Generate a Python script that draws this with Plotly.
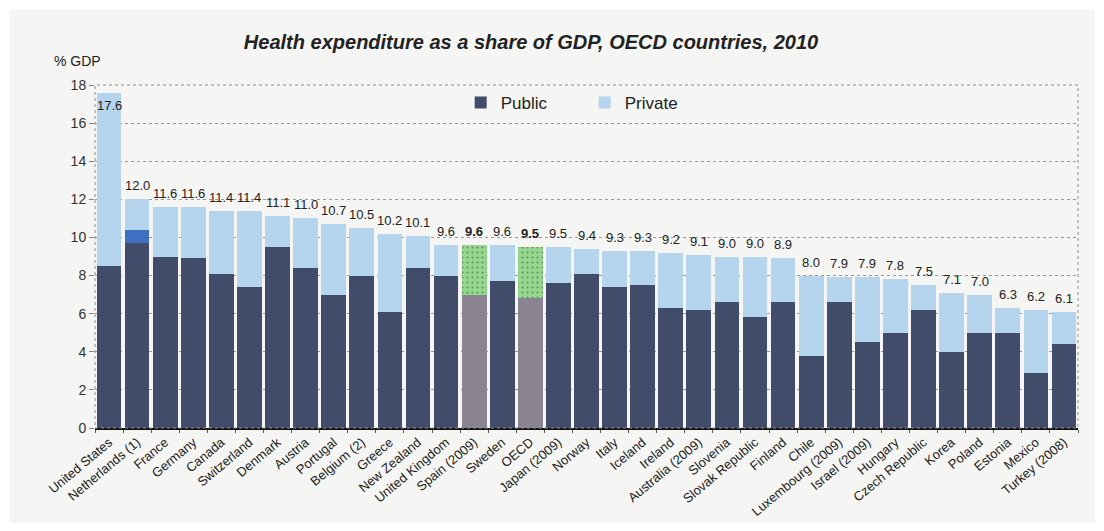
import plotly.graph_objects as go

# Health expenditure as a share of GDP, OECD countries, 2010
countries = [
    "United States", "Netherlands (1)", "France", "Germany", "Canada", "Switzerland",
    "Denmark", "Austria", "Portugal", "Belgium (2)", "Greece", "New Zealand",
    "United Kingdom", "Spain (2009)", "Sweden", "OECD", "Japan (2009)", "Norway",
    "Italy", "Iceland", "Ireland", "Australia (2009)", "Slovenia", "Slovak Republic",
    "Finland", "Chile", "Luxembourg (2009)", "Israel (2009)", "Hungary",
    "Czech Republic", "Korea", "Poland", "Estonia", "Mexico", "Turkey (2008)",
]
total = [17.6, 12.0, 11.6, 11.6, 11.4, 11.4, 11.1, 11.0, 10.7, 10.5, 10.2, 10.1,
         9.6, 9.6, 9.6, 9.5, 9.5, 9.4, 9.3, 9.3, 9.2, 9.1, 9.0, 9.0, 8.9, 8.0,
         7.9, 7.9, 7.8, 7.5, 7.1, 7.0, 6.3, 6.2, 6.1]
public = [8.5, 9.7, 9.0, 8.9, 8.1, 7.4, 9.5, 8.4, 7.0, 8.0, 6.1, 8.4,
          8.0, 7.0, 7.7, 6.8, 7.6, 8.1, 7.4, 7.5, 6.3, 6.2, 6.6, 5.8, 6.6, 3.8,
          6.6, 4.5, 5.0, 6.2, 4.0, 5.0, 5.0, 2.9, 4.4]
# Netherlands: expenditure not allocated between public and private
unallocated = {"Netherlands (1)": 0.7}
highlighted = ["Spain (2009)", "OECD"]

y_ticks = [0, 2, 4, 6, 8, 10, 12, 14, 16, 18]

FONT = "Liberation Sans, Arial, sans-serif"
PUBLIC_C = "#414b6a"
PRIVATE_C = "#b5d4ee"
HL_PUBLIC_C = "#8a8391"
HL_PRIVATE_C = "#93d88c"
UNALLOC_C = "#3e70c2"

other = [unallocated.get(c, 0.0) for c in countries]
private = [round(t - p - o, 2) for t, p, o in zip(total, public, other)]
is_hl = [c in highlighted for c in countries]

fig = go.Figure()
fig.add_trace(go.Bar(
    x=countries, y=public, name="Public",
    marker=dict(color=[HL_PUBLIC_C if h else PUBLIC_C for h in is_hl], line_width=0),
))
fig.add_trace(go.Bar(
    x=countries, y=other, name="Not allocated", showlegend=False,
    marker=dict(color=UNALLOC_C, line_width=0),
))
fig.add_trace(go.Bar(
    x=countries, y=private, name="Private",
    marker=dict(
        color=[HL_PRIVATE_C if h else PRIVATE_C for h in is_hl], line_width=0,
        pattern=dict(shape=["." if h else "" for h in is_hl],
                     fgcolor="#2f6b2f", size=5, solidity=0.15),
    ),
))

# total value labels above each bar (inside the top of the tallest one)
annotations = []
for c, t, h in zip(countries, total, is_hl):
    inside = t > 17
    annotations.append(dict(
        x=c, y=t, xref="x", yref="y",
        text=f"<b>{t:.1f}</b>" if h else f"{t:.1f}",
        showarrow=False, yanchor="top" if inside else "bottom",
        yshift=-3 if inside else 4,
        font=dict(family=FONT, size=13, color="#222222"),
    ))
annotations.append(dict(
    text="% GDP", xref="paper", yref="paper",
    x=(77 - 95) / 983, y=(428 - 61) / 343, xanchor="center", yanchor="middle",
    showarrow=False, font=dict(family=FONT, size=14, color="#222222"),
))

# light panel behind the chart and dotted frame of the plot area
fig.add_shape(type="rect", xref="paper", yref="paper",
              x0=-85 / 983, x1=(1095 - 95) / 983, y0=-95 / 343, y1=418 / 343,
              fillcolor="#f5f5f3", line_width=0, layer="below")
fig.add_shape(type="rect", xref="paper", yref="paper", x0=0, x1=1, y0=0, y1=1,
              line=dict(color="#8c8c8c", width=1, dash="dot"), layer="above")

fig.update_layout(
    width=1104, height=531,
    margin=dict(l=95, r=26, t=85, b=103),
    paper_bgcolor="white", plot_bgcolor="rgba(0,0,0,0)",
    barmode="stack", bargap=0.12,
    font=dict(family=FONT, color="#222222"),
    title=dict(
        text="<b><i>Health expenditure as a share of GDP, OECD countries, 2010</i></b>",
        x=531 / 1104, xanchor="center", y=1 - 42 / 531, yanchor="middle",
        font=dict(size=20, color="#222222"),
    ),
    legend=dict(orientation="h", x=0.372, y=1.0, xanchor="left", yanchor="top",
                bgcolor="rgba(0,0,0,0)", font=dict(size=17), entrywidth=79,
                traceorder="normal"),
    xaxis=dict(
        range=[-0.5, len(countries) - 0.5],
        tickangle=-40, tickfont=dict(size=13), showgrid=False,
        showline=True, linecolor="#111111", linewidth=1.5,
        ticks="outside", tickson="boundaries", ticklen=3, tickcolor="#555555",
    ),
    yaxis=dict(
        range=[0, 18], tickvals=y_ticks, tickfont=dict(size=14, color="#333333"),
        showgrid=True, gridcolor="#9a9a9a", griddash="dot", gridwidth=1,
        ticks="outside", ticklen=5, tickcolor="#888888", zeroline=False,
    ),
    annotations=annotations,
)

fig.write_html("out.html")
